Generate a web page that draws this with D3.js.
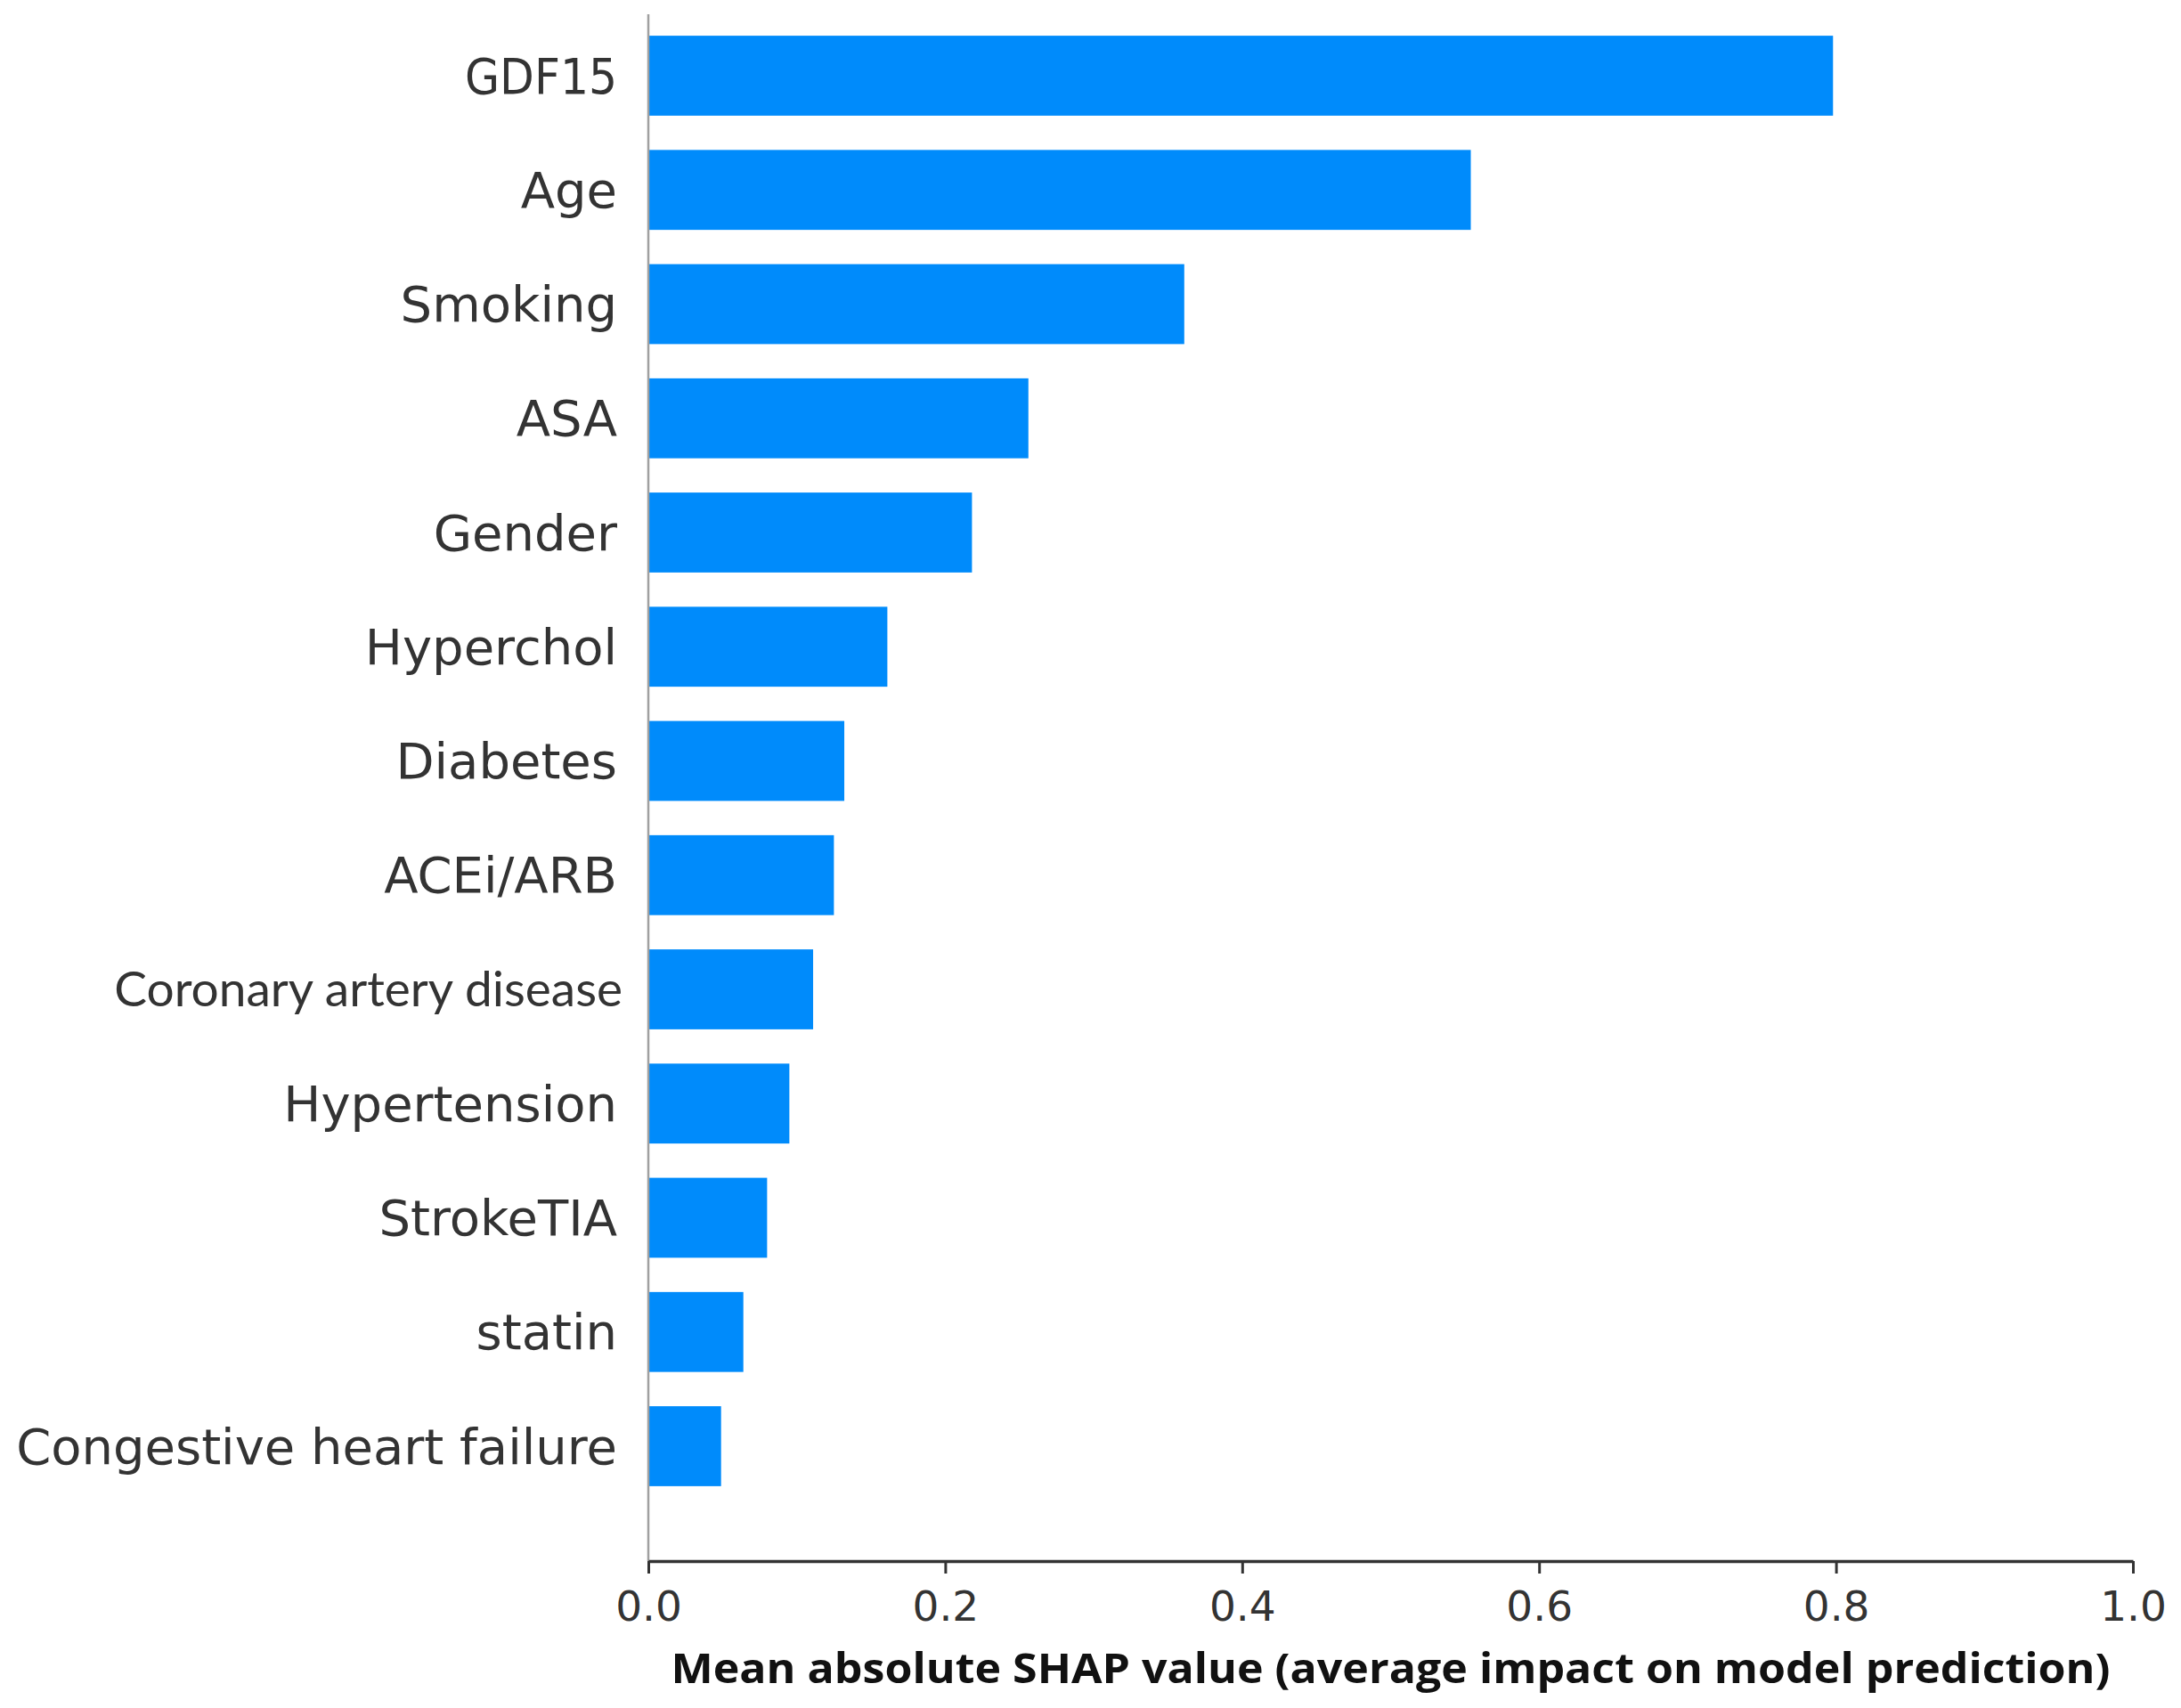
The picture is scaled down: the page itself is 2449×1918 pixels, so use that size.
<!DOCTYPE html>
<html>
<head>
<meta charset="utf-8">
<script src="https://cdn.jsdelivr.net/npm/d3@7"></script>
<style>
  body { margin: 0; background: #fff; }
</style>
</head>
<body>
<div id="chart"></div>
<script>
// feature names, top to bottom
var features = ["GDF15", "Age", "Smoking", "ASA", "Gender", "Hyperchol", "Diabetes",
  "ACEi/ARB", "Coronary artery disease", "Hypertension", "StrokeTIA", "statin",
  "Congestive heart failure"];
// mean |SHAP| per feature
var shapValues = [0.798, 0.554, 0.361, 0.256, 0.218, 0.161, 0.132,
  0.125, 0.111, 0.095, 0.080, 0.064, 0.049];
var xTicks = [0, 0.2, 0.4, 0.6, 0.8, 1.0];
var xLabel = "Mean absolute SHAP value (average impact on model prediction)";
// these labels were typeset in other faces in the source figure
var altFontLabels = ["Coronary artery disease"];
var narrowLabels = ["GDF15"];

(function () {
  var width = 2449,
      height = 1918;

  var svg = d3.select("#chart")
    .append("svg")
    .attr("width", width)
    .attr("height", height);

  var x = d3.scaleLinear().domain([0, 1]).range([728, 2395]);

  var y = d3.scaleBand()
    .domain(features)
    .range([20.875, 1688.125])
    .paddingInner(0.3)
    .paddingOuter(0.15);

  var rows = features.map(function (f, i) {
    return { name: f, value: shapValues[i] };
  });

  // bars
  svg.selectAll(".bar")
    .data(rows)
    .enter().append("rect")
    .attr("class", "bar")
    .attr("x", x(0))
    .attr("y", function (d) { return y(d.name); })
    .attr("width", function (d) { return x(d.value) - x(0); })
    .attr("height", y.bandwidth())
    .attr("fill", "#008bfb");

  // left spine
  svg.append("line")
    .attr("x1", x(0)).attr("x2", x(0))
    .attr("y1", 16).attr("y2", 1753)
    .attr("stroke", "#a0a0a0")
    .attr("stroke-width", 2.5);

  // feature labels
  svg.selectAll(".flabel")
    .data(rows)
    .enter().append("text")
    .attr("class", "flabel")
    .attr("x", function (d) { return altFontLabels.indexOf(d.name) >= 0 ? 699 : 693; })
    .attr("y", function (d) { return y(d.name) + y.bandwidth() / 2; })
    .attr("dy", "0.35em")
    .attr("text-anchor", "end")
    .attr("fill", "#333")
    .style("font-family", function (d) {
      if (altFontLabels.indexOf(d.name) >= 0) return "Lato, 'Open Sans', sans-serif";
      if (narrowLabels.indexOf(d.name) >= 0) return "'DejaVu Sans Condensed', 'DejaVu Sans', sans-serif";
      return "'DejaVu Sans', sans-serif";
    })
    .style("font-size", function (d) {
      return altFontLabels.indexOf(d.name) >= 0 ? "55px" : "56px";
    })
    .text(function (d) { return d.name; });

  // x axis
  var xAxis = d3.axisBottom(x)
    .tickValues(xTicks)
    .tickFormat(d3.format(".1f"))
    .tickSize(14)
    .tickSizeOuter(0);

  var gx = svg.append("g")
    .attr("transform", "translate(0,1753)")
    .call(xAxis);

  gx.select(".domain")
    .attr("stroke", "#333")
    .attr("stroke-width", 3.5);
  gx.selectAll(".tick line")
    .attr("stroke", "#333")
    .attr("stroke-width", 3);
  gx.selectAll(".tick text")
    .attr("y", 67)
    .attr("dy", null)
    .attr("fill", "#333")
    .style("font-family", "'DejaVu Sans', sans-serif")
    .style("font-size", "47px");

  svg.append("text")
    .attr("x", (x(0) + x(1)) / 2)
    .attr("y", 1890)
    .attr("text-anchor", "middle")
    .attr("fill", "#111")
    .attr("textLength", 1616)
    .attr("lengthAdjust", "spacingAndGlyphs")
    .style("font-family", "'Open Sans', sans-serif")
    .style("font-weight", "bold")
    .style("font-size", "46px")
    .text(xLabel);
})();
</script>
</body>
</html>
